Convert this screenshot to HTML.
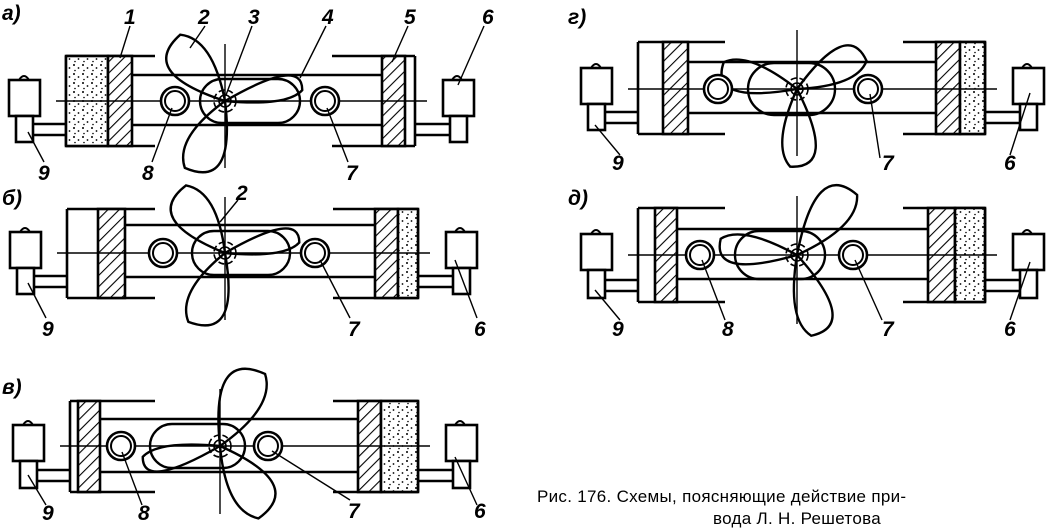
<!DOCTYPE html>
<html><head><meta charset="utf-8"><style>
html,body{margin:0;padding:0;background:#fff;width:1047px;height:530px;overflow:hidden}
svg{display:block}
.t{font-family:"Liberation Sans",sans-serif;font-style:italic;font-weight:bold;font-size:21px;fill:#000}
.c{font-family:"Liberation Sans",sans-serif;font-size:17px;fill:#000;letter-spacing:0.3px}
</style></head><body>
<svg id="s" width="1047" height="530" viewBox="0 0 1047 530" xmlns="http://www.w3.org/2000/svg">
<defs>
<pattern id="h" width="8" height="8" patternUnits="userSpaceOnUse" patternTransform="rotate(45)"><rect width="8" height="8" fill="#fff"/><line x1="0" y1="0" x2="0" y2="8" stroke="#000" stroke-width="2.2"/></pattern>
<pattern id="d" width="9" height="9" patternUnits="userSpaceOnUse"><rect width="9" height="9" fill="#fff"/><circle cx="2" cy="2" r="1" fill="#000"/><circle cx="6.5" cy="5" r="0.9" fill="#000"/><circle cx="3" cy="7.5" r="0.8" fill="#000"/></pattern>
</defs>
<g id="g" fill="none" stroke="#000" stroke-width="2.6"></g>
<g fill="none" stroke="#000" stroke-width="1.4">
<line x1="120" y1="58" x2="130" y2="26"/><line x1="190" y1="48" x2="205" y2="26"/><line x1="226" y1="95" x2="252" y2="26"/><line x1="300" y1="78" x2="326" y2="26"/><line x1="392" y1="62" x2="408" y2="26"/><line x1="458" y1="85" x2="484" y2="26"/>
<line x1="28" y1="132" x2="44" y2="162"/><line x1="172" y1="108" x2="152" y2="162"/><line x1="327" y1="108" x2="348" y2="162"/>
<line x1="220" y1="222" x2="238" y2="200"/><line x1="28" y1="283" x2="46" y2="318"/><line x1="320" y1="260" x2="350" y2="318"/><line x1="455" y1="260" x2="477" y2="318"/>
<line x1="28" y1="475" x2="46" y2="505"/><line x1="122" y1="452" x2="142" y2="505"/><line x1="272" y1="451" x2="350" y2="500"/><line x1="455" y1="457" x2="477" y2="505"/>
<line x1="595" y1="125" x2="620" y2="155"/><line x1="870" y1="94" x2="880" y2="158"/><line x1="1030" y1="93" x2="1010" y2="155"/>
<line x1="595" y1="290" x2="620" y2="320"/><line x1="702" y1="260" x2="725" y2="320"/><line x1="855" y1="260" x2="882" y2="320"/><line x1="1030" y1="262" x2="1010" y2="320"/>
</g>
<text class="t" x="2" y="20">а)</text><text class="t" x="124" y="24">1</text><text class="t" x="198" y="24">2</text><text class="t" x="248" y="24">3</text><text class="t" x="322" y="24">4</text><text class="t" x="404" y="24">5</text><text class="t" x="482" y="24">6</text><text class="t" x="38" y="180">9</text><text class="t" x="142" y="180">8</text><text class="t" x="346" y="180">7</text>
<text class="t" x="2" y="205">б)</text><text class="t" x="236" y="200">2</text><text class="t" x="42" y="336">9</text><text class="t" x="348" y="336">7</text><text class="t" x="474" y="336">6</text>
<text class="t" x="2" y="394">в)</text><text class="t" x="42" y="520">9</text><text class="t" x="138" y="520">8</text><text class="t" x="348" y="518">7</text><text class="t" x="474" y="518">6</text>
<text class="t" x="568" y="24">г)</text><text class="t" x="612" y="170">9</text><text class="t" x="882" y="170">7</text><text class="t" x="1004" y="170">6</text>
<text class="t" x="568" y="205">д)</text><text class="t" x="612" y="336">9</text><text class="t" x="722" y="336">8</text><text class="t" x="882" y="336">7</text><text class="t" x="1004" y="336">6</text>
<text class="c" x="537" y="502">Рис. 176. Схемы, поясняющие действие при-</text>
<text class="c" x="713" y="524">вода Л. Н. Решетова</text>
</svg>
<script>
var G=document.getElementById('g'),NS='http://www.w3.org/2000/svg';
function el(t,a){var e=document.createElementNS(NS,t);for(var k in a)e.setAttribute(k,a[k]);G.appendChild(e);return e;}
function ln(a,b,c,d,w){el('line',{x1:a,y1:b,x2:c,y2:d,'stroke-width':w||2.6});}
function rc(x,y,w,h,f){el('rect',{x:x,y:y,width:w,height:h,fill:f||'none'});}
function petal(cx,cy,ang,len,wd){var r=Math.PI/180,a=ang*r,s=wd*r;
var tx=cx+len*Math.cos(a),ty=cy+len*Math.sin(a);
var p1x=cx+len*1.15*Math.cos(a-s),p1y=cy+len*1.15*Math.sin(a-s),p2x=cx+len*0.8*Math.cos(a+s*0.6),p2y=cy+len*0.8*Math.sin(a+s*0.6);
el('path',{d:'M'+cx+' '+cy+' Q'+p1x+' '+p1y+' '+tx+' '+ty+' Q'+p2x+' '+p2y+' '+cx+' '+cy,'stroke-width':2.4});}
function ring(x,y){el('circle',{cx:x,cy:y,r:14,fill:'#fff'});el('circle',{cx:x,cy:y,r:10,'stroke-width':2});}
function panel(P){var L=P.L,R=P.R,T=P.T,B=P.B,A=P.A;
rc(L-57,A-21,31,36,'#fff');el('path',{d:'M'+(L-47)+' '+(A-21)+' q5 -8 10 0','stroke-width':2});
rc(L-50,A+15,17,B-A-19,'#fff');
ln(L-33,B-22,L,B-22);ln(L-33,B-11,L,B-11);
rc(R+28,A-21,31,36,'#fff');el('path',{d:'M'+(R+37)+' '+(A-21)+' q5 -8 10 0','stroke-width':2});
rc(R+35,A+15,17,B-A-19,'#fff');
ln(R,B-22,R+35,B-22);ln(R,B-11,R+35,B-11);
ln(L,T,P.tl,T);ln(L,B,P.tl,B);ln(L,T,L,B);
ln(P.tr,T,R,T);ln(P.tr,B,R,B);ln(R,T,R,B);
if(P.ls)rc(P.ls[0],T,P.ls[1]-P.ls[0],B-T,'url(#d)');
rc(P.lh[0],T,P.lh[1]-P.lh[0],B-T,'url(#h)');
rc(P.rh[0],T,P.rh[1]-P.rh[0],B-T,'url(#h)');
if(P.rs)rc(P.rs[0],T,P.rs[1]-P.rs[0],B-T,'url(#d)');
ln(P.lh[1],P.r1,P.rh[0],P.r1);ln(P.lh[1],P.r2,P.rh[0],P.r2);
P.pet.forEach(function(q){petal(P.cx,A,q[0],q[1],q[2]);});
el('rect',{x:P.sl[0],y:A-P.sl[2],width:P.sl[1]-P.sl[0],height:2*P.sl[2],rx:P.sl[2],fill:'none','stroke-width':2.4});
ln(L-10,A,R+12,A,1.4);
ln(P.cx,T-12,P.cx,B+22,1.4);
P.c.forEach(function(x){ring(x,A);});
el('circle',{cx:P.cx,cy:A,r:11,'stroke-width':1.6,'stroke-dasharray':'6 3'});
el('circle',{cx:P.cx,cy:A,r:6,'stroke-width':1.6});
}
panel({L:66,R:415,T:56,B:146,A:101,r1:75,r2:125,tl:155,tr:332,ls:[66,108],lh:[108,132],rh:[382,405],cx:225,c:[175,325],sl:[200,300,22],pet:[[-124,80,38],[121,78,38],[-8,78,22]]});
panel({L:67,R:418,T:209,B:298,A:253,r1:225,r2:277,tl:155,tr:333,lh:[98,125],rh:[375,398],rs:[398,418],cx:225,c:[163,315],sl:[192,290,22],pet:[[-120,78,38],[118,78,38],[-8,75,22]]});
panel({L:70,R:418,T:401,B:492,A:446,r1:419,r2:472,tl:155,tr:333,lh:[78,100],rh:[358,381],rs:[381,418],cx:220,c:[121,268],sl:[150,245,22],pet:[[-58,85,38],[62,82,38],[172,78,22]]});
panel({L:638,R:985,T:42,B:134,A:89,r1:62,r2:113,tl:725,tr:903,lh:[663,688],rh:[936,960],rs:[960,985],cx:797,c:[718,868],sl:[748,835,26],pet:[[-160,78,30],[-22,75,32],[95,78,32]]});
panel({L:638,R:985,T:208,B:302,A:255,r1:229,r2:279,tl:725,tr:903,lh:[655,677],rh:[928,955],rs:[955,985],cx:797,c:[700,853],sl:[735,825,24],pet:[[-168,78,28],[-45,85,34],[80,82,32]]});
</script>
</body></html>
